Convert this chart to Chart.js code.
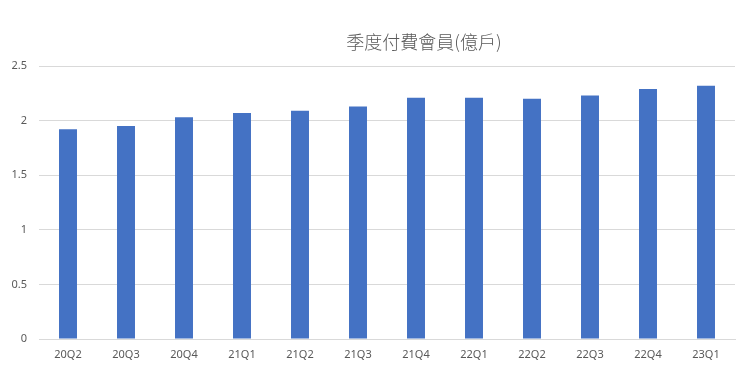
<!DOCTYPE html>
<html>
<head>
<meta charset="utf-8">
<script src="https://cdn.jsdelivr.net/npm/chart.js@4/dist/chart.umd.min.js"></script>
<style>
  html, body { margin: 0; padding: 0; background: #fff; }
  .wrap { position: relative; width: 740px; height: 372px; }
  .title {
    position: absolute; left: 424px; top: 29px; transform: translateX(-50%);
    font-family: "Noto Sans CJK TC", "Noto Sans", sans-serif; font-size: 18px;
    font-weight: 300; color: #595959; white-space: nowrap; line-height: 24px;
  }
</style>
</head>
<body>
<div class="wrap">
  <div class="title">季度付費會員(億戶)</div>
  <canvas id="chart" width="740" height="372"></canvas>
</div>
<script>
// quarters and paid members (hundred million)
var quarters = ['20Q2', '20Q3', '20Q4', '21Q1', '21Q2', '21Q3', '21Q4', '22Q1', '22Q2', '22Q3', '22Q4', '23Q1']
var members = [1.92, 1.95, 2.03, 2.07, 2.09, 2.13, 2.21, 2.21, 2.20, 2.23, 2.29, 2.32]

var tickFont = { family: '"Noto Sans", "DejaVu Sans", sans-serif', size: 11 }

new Chart(document.querySelector('#chart').getContext('2d'), {
    type: 'bar',
    data: {
        labels: quarters,
        datasets: [{
            label: '季度付費會員(億戶)',
            data: members,
            backgroundColor: '#4472C4',
            borderWidth: 0,
            barPercentage: 0.31,
            categoryPercentage: 1
        }]
    },
    options: {
        responsive: false,
        animation: false,
        layout: { padding: { top: 66, right: 5, left: 0, bottom: 0 } },
        plugins: {
            legend: { display: false },
            title: { display: false },
            tooltip: { enabled: false }
        },
        scales: {
            x: {
                grid: { display: false, drawTicks: false },
                border: { display: true, color: '#d9d9d9', width: 1 },
                ticks: { color: '#595959', font: tickFont, padding: 9, maxRotation: 0 },
                afterFit: function(s) { s.height = 33 }
            },
            y: {
                min: 0,
                max: 2.5,
                grid: { color: '#d9d9d9', drawTicks: false },
                border: { display: false },
                ticks: {
                    stepSize: 0.5, color: '#595959', font: tickFont, padding: 12,
                    callback: function(v) { return String(v) }
                },
                afterFit: function(s) { s.width = 39 }
            }
        }
    }
})
</script>
</body>
</html>
